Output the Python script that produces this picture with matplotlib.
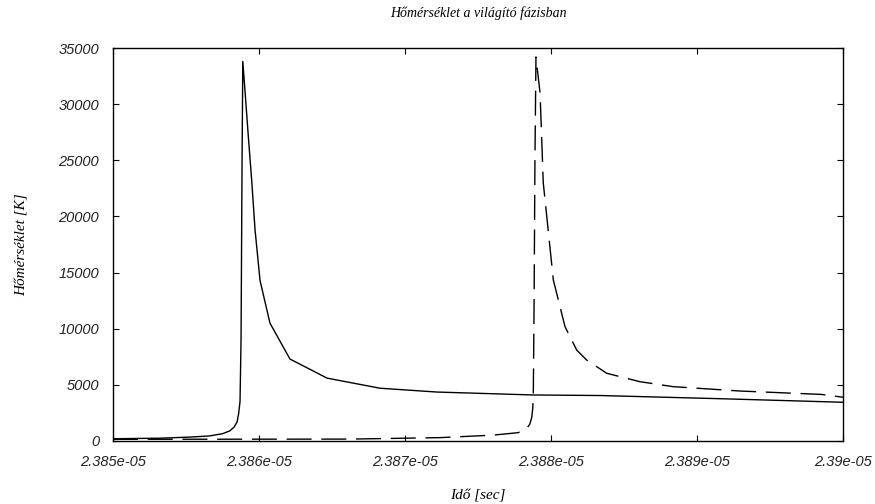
import matplotlib
matplotlib.use("Agg")
from matplotlib import pyplot as plt

# Solid curve (first discharge)
t_a = [2.38500e-5, 2.38532e-5, 2.38553e-5, 2.38566e-5, 2.38575e-5, 2.38580e-5,
       2.38583e-5, 2.38585e-5, 2.38586e-5,
       2.385870e-5, 2.385877e-5, 2.385884e-5, 2.385889e-5, 2.385904e-5, 2.385927e-5,
       2.385950e-5, 2.385973e-5, 2.386007e-5, 2.386075e-5, 2.386212e-5, 2.386466e-5,
       2.386829e-5, 2.387219e-5, 2.387877e-5, 2.388336e-5, 2.389205e-5, 2.390000e-5]
T_a = [200, 250, 350, 450, 650, 900,
       1250, 1700, 2400,
       3500, 9000, 25000, 33800, 31200, 27100,
       23200, 18800, 14300, 10500, 7300, 5600,
       4700, 4360, 4100, 4050, 3750, 3450]

# Dashed curve (second discharge)
t_b = [2.38500e-5, 2.386623e-5, 2.387240e-5, 2.387600e-5, 2.387774e-5, 2.387830e-5,
       2.387855e-5, 2.387868e-5, 2.387875e-5,
       2.387879e-5, 2.387884e-5, 2.387890e-5, 2.387897e-5, 2.387925e-5, 2.387947e-5,
       2.387975e-5, 2.388016e-5, 2.388096e-5, 2.388176e-5, 2.388245e-5, 2.388382e-5,
       2.388610e-5, 2.388836e-5, 2.389295e-5, 2.389850e-5, 2.390000e-5]
T_b = [150, 170, 300, 520, 740, 1050,
       1500, 2100, 2900,
       4500, 12000, 25000, 34200, 31000, 23000,
       19500, 14340, 10180, 8100, 7200, 6030,
       5280, 4840, 4450, 4150, 3900]

xticks = [2.385e-5, 2.386e-5, 2.387e-5, 2.388e-5, 2.389e-5, 2.39e-5]
xticklabels = ['2.385e-05', '2.386e-05', '2.387e-05', '2.388e-05', '2.389e-05', '2.39e-05']
yticks = [0, 5000, 10000, 15000, 20000, 25000, 30000, 35000]

plt.rcParams['font.family'] = ['Liberation Serif', 'DejaVu Serif']
plt.rcParams['font.style'] = 'italic'

fig = plt.figure(figsize=(8.75, 5.04), dpi=100)
ax = fig.add_axes([113/875, 1-441/504, 730/875, 393/504])

ax.plot(t_a, T_a, color='black', lw=1.0)
ax.plot(t_b, T_b, color='black', lw=1.0, dashes=(18, 7))

ax.set_xlim(2.385e-5, 2.39e-5)
ax.set_ylim(0, 35000)
ax.set_xticks(xticks)
ax.set_xticklabels(xticklabels)
ax.set_yticks(yticks)
ax.tick_params(direction='in', length=4, top=True, right=True, pad=10)
for lab in ax.get_xticklabels() + ax.get_yticklabels():
    lab.set_family(['Liberation Sans', 'DejaVu Sans'])
    lab.set_style('italic')
    lab.set_fontsize(10.5)
    lab.set_color('#222222')
for s in ax.spines.values():
    s.set_linewidth(1.0)

ax.set_title('Hőmérséklet a világító fázisban', fontsize=10, pad=22)
ax.set_xlabel('Idő [sec]', fontsize=11, labelpad=14)
ax.set_ylabel('Hőmérséklet [K]', fontsize=11, labelpad=22)

fig.savefig('out.png', dpi=100)
